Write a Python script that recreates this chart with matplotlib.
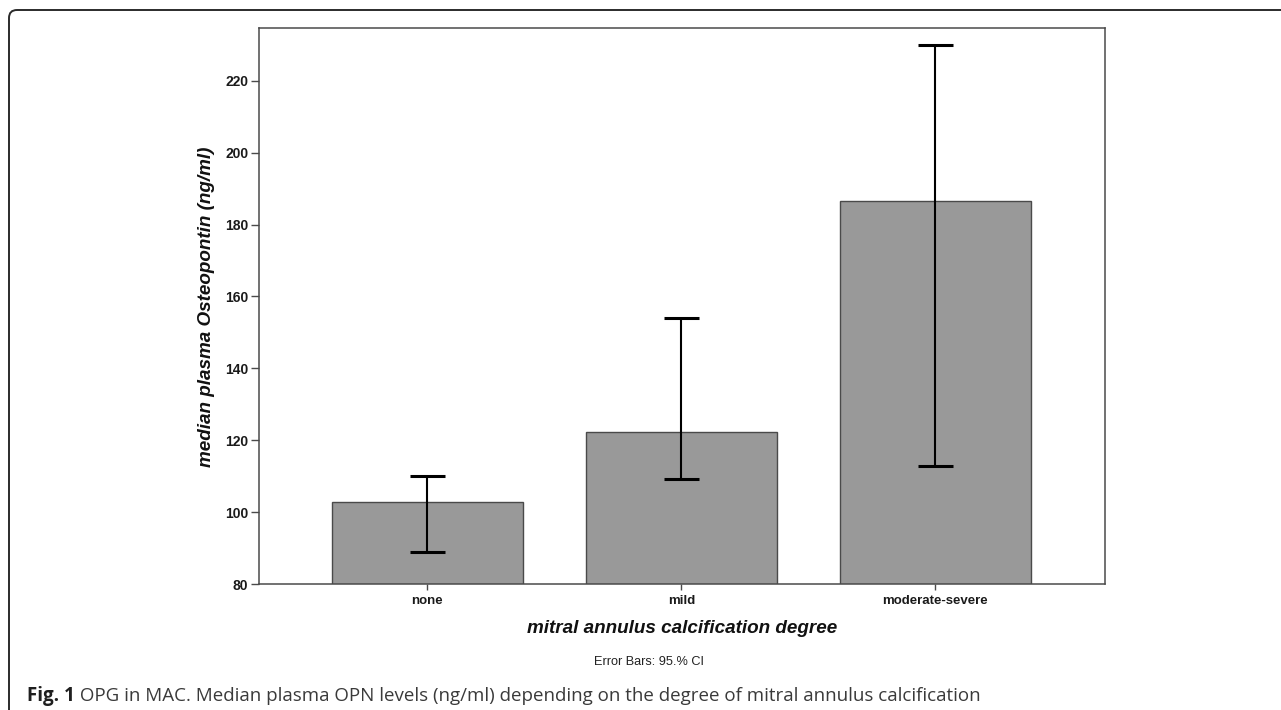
import matplotlib
matplotlib.use('Agg')
import matplotlib.pyplot as plt
from matplotlib.patches import FancyBboxPatch

categories = ['none', 'mild', 'moderate-severe']
medians = [102.8, 122.4, 186.6]
ci_low = [88.9, 109.1, 112.9]
ci_high = [110.0, 154.0, 229.9]
yticks = [80, 100, 120, 140, 160, 180, 200, 220]
y_min, y_max = 80, 234.6

W, H, DPI = 1281, 710, 100
narrow = ['Liberation Sans Narrow', 'Liberation Sans', 'DejaVu Sans']
plt.rcParams['font.family'] = narrow

fig = plt.figure(figsize=(W / DPI, H / DPI), dpi=DPI)
fig.patch.set_facecolor('white')

ax_l, ax_r, ax_t, ax_b = 258.7, 1105.3, 28.3, 584.0
ax = fig.add_axes([ax_l / W, 1 - ax_b / H, (ax_r - ax_l) / W, (ax_b - ax_t) / H])

x = list(range(len(categories)))
ax.bar(x, medians, width=0.75, color='#999999', edgecolor='#4a4a4a',
       linewidth=1.0, zorder=2)
yerr = [[m - lo for m, lo in zip(medians, ci_low)],
        [hi - m for m, hi in zip(medians, ci_high)]]
ax.errorbar(x, medians, yerr=yerr, fmt='none', ecolor='black',
            elinewidth=1.5, capsize=12.6, capthick=2.2, zorder=3)

ax.set_xlim(-0.664, 2.669)
ax.set_ylim(y_min, y_max)
ax.set_yticks(yticks)
ax.set_yticklabels([str(v) for v in yticks])
ax.set_xticks(x)
ax.set_xticklabels(categories)

for sp in ax.spines.values():
    sp.set_color('#4a4a4a')
    sp.set_linewidth(1.1)
ax.tick_params(axis='y', length=6, width=1, color='#4a4a4a', pad=1.5,
               labelsize=10, labelcolor='#1a1a1a')
ax.tick_params(axis='x', length=4.5, width=1, color='#4a4a4a', pad=3.5,
               labelsize=9.5, labelcolor='#1a1a1a')
for lbl in ax.get_xticklabels() + ax.get_yticklabels():
    lbl.set_fontweight('bold')

# axis titles
fig.text(206.5 / W, 1 - 306.5 / H, 'median plasma Osteopontin (ng/ml)',
         rotation=90, ha='center', va='center', fontsize=13.6,
         fontweight='bold', style='italic',
         family=['Liberation Sans', 'DejaVu Sans'], color='#111111')
fig.text(682 / W, 1 - 632.7 / H, 'mitral annulus calcification degree',
         ha='center', va='baseline', fontsize=13.6, fontweight='bold',
         style='italic', family=['Liberation Sans', 'DejaVu Sans'],
         color='#111111')
fig.text(649.5 / W, 1 - 661.7 / H, 'Error Bars: 95.% CI', ha='center',
         va='center', fontsize=9.2, color='#222222')

# outer frame with rounded top-left corner
frame = FancyBboxPatch((9 / DPI, -0.3), 14.0, (H - 10) / DPI + 0.3,
                       boxstyle='round,pad=0,rounding_size=0.08',
                       transform=fig.dpi_scale_trans, fill=False,
                       edgecolor='#2b2b2b', linewidth=1.4, clip_on=False)
fig.patches.append(frame)

# caption
cap_y = 1 - 701 / H
t1 = fig.text(27 / W, cap_y, 'Fig. 1', ha='left', va='baseline', fontsize=13.5,
              fontweight='bold', family=['Open Sans', 'DejaVu Sans'],
              color='#1f1f1f')
fig.canvas.draw()
bb = t1.get_window_extent(fig.canvas.get_renderer())
fig.text(bb.x1 / W, cap_y,
         ' OPG in MAC. Median plasma OPN levels (ng/ml) depending on the degree of mitral annulus calcification',
         ha='left', va='baseline', fontsize=13.5,
         family=['Open Sans', 'DejaVu Sans'], color='#3a3a3a')

fig.savefig('out.png', dpi=DPI)
